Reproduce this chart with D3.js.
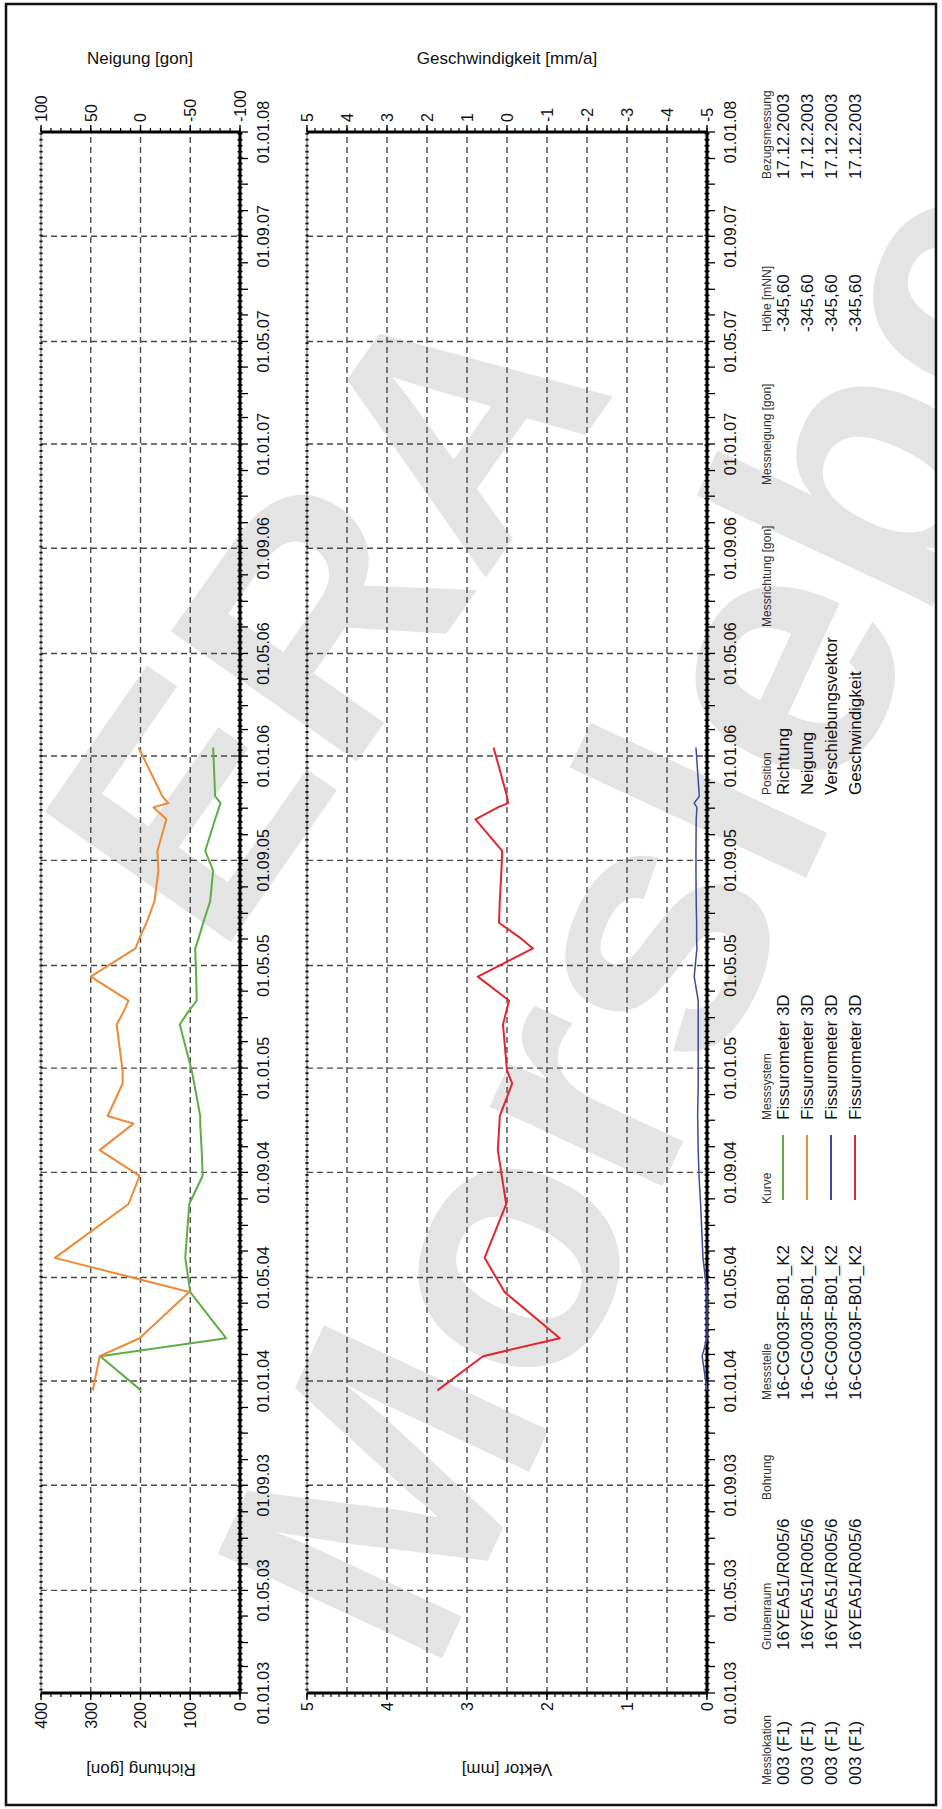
<!DOCTYPE html>
<html><head><meta charset="utf-8">
<script src="https://cdn.jsdelivr.net/npm/d3@7"></script>
<style>
body{margin:0;background:#fff}
svg{display:block}
text{font-family:"Liberation Sans",Arial,sans-serif;fill:#111}
</style>
</head><body>
<svg id="c" width="942" height="1809"></svg>
<script>
// ---------- data ----------
const dates = ["2003-12-21","2004-01-30","2004-02-20","2004-04-14","2004-05-24","2004-07-26","2004-08-28",
  "2004-09-27","2004-10-28","2004-11-06","2004-12-14","2004-12-29","2005-02-21","2005-03-08","2005-03-21",
  "2005-04-18","2005-05-21","2005-06-02","2005-06-20","2005-07-15","2005-08-20","2005-09-12","2005-10-19",
  "2005-11-02","2005-11-07","2005-11-15","2006-01-11"];
const richtung = [199,281,28,100,110,102,75,77,80,80,92,97,121,104,87,88,90,83,74,60,54,70,50,42,39,50,54];
const neigung  = [48,41,1,-49,86,12,1,41,7,33,18,18,24,17,12,50,5,1,-6,-14,-18,-17,-26,-13,-28,-22,2];
const vektor   = [0,0.06,0,0,0.05,0.08,0.10,0.11,0.115,0.117,0.11,0.11,0.11,0.11,0.11,0.16,0.126,0.13,0.13,0.135,0.138,0.138,0.135,0.126,0.16,0.096,0.138];
const geschwindigkeit = [1.74,0.6,-1.32,0.06,0.56,0.02,0.13,0.23,0.19,0.18,-0.13,0,0.1,0.02,-0.05,0.73,-0.65,-0.34,0.2,0.18,0.14,0.12,0.79,0.23,-0.03,0,0.335];

const timeTickLabels = ["01.01.03","01.05.03","01.09.03","01.01.04","01.05.04","01.09.04","01.01.05","01.05.05",
  "01.09.05","01.01.06","01.05.06","01.09.06","01.01.07","01.05.07","01.09.07","01.01.08"];
const richtungTicks = [0,100,200,300,400];
const neigungTicks = [-100,-50,0,50,100];
const vektorTicks = [0,1,2,3,4,5];
const geschwTicks = [-5,-4,-3,-2,-1,0,1,2,3,4,5];

const seriesNames = ["Richtung","Neigung","Verschiebungsvektor","Geschwindigkeit"];
const seriesColors = ["#5cae45","#ee8a35","#3d4b9c","#e3262e"];
const messlokation = ["003 (F1)","003 (F1)","003 (F1)","003 (F1)"];
const grubenraum = ["16YEA51/R005/6","16YEA51/R005/6","16YEA51/R005/6","16YEA51/R005/6"];
const messstelle = ["16-CG003F-B01_K2","16-CG003F-B01_K2","16-CG003F-B01_K2","16-CG003F-B01_K2"];
const messsystem = ["Fissurometer 3D","Fissurometer 3D","Fissurometer 3D","Fissurometer 3D"];
const hoehe = ["-345,60","-345,60","-345,60","-345,60"];
const bezug = ["17.12.2003","17.12.2003","17.12.2003","17.12.2003"];

// ---------- setup ----------
const PW = 942, PH = 1809;
const svg = d3.select("#c");
const parseD = d3.timeParse("%Y-%m-%d");
const parseT = d3.timeParse("%d.%m.%y");
const D = dates.map(parseD);

// clip for watermark (inside frame)
svg.append("defs").append("clipPath").attr("id","frameclip")
  .append("rect").attr("x",7).attr("y",5).attr("width",PW-14).attr("height",PH-10);

// watermark (page coordinates)
const wm = svg.append("g").attr("clip-path","url(#frameclip)").style("font-weight","bold");
wm.append("text").attr("transform","translate(432,1680) rotate(-65)")
  .style("font-size","360px").style("fill","#e4e4e4").text("Morsleben");
wm.append("text").attr("transform","translate(218,960) rotate(-55)")
  .style("font-size","330px").style("fill","#e4e4e4").text("ERA");

// frame
svg.append("rect").attr("x",6).attr("y",4).attr("width",PW-12).attr("height",PH-8)
  .attr("fill","none").attr("stroke","#111").attr("stroke-width",2.5);

// landscape group: X along time (page bottom->top), Y = page x
const L = svg.append("g").attr("transform",`translate(0,${PH}) rotate(-90)`);

const x = d3.scaleTime().domain([parseT("01.01.03"), parseT("01.01.08")]).range([116,1677]);
const tickDates = timeTickLabels.map(parseT);

function panel(top, bottom, ls, lTicks, lMinor, rs, rTicks, rMinor, hGrid){
  const g = L.append("g");
  const [x0,x1] = x.range();
  g.selectAll(".vg").data(tickDates.slice(1,-1)).join("line")
    .attr("x1",d=>x(d)).attr("x2",d=>x(d)).attr("y1",top).attr("y2",bottom)
    .attr("stroke","#4a4a4a").attr("stroke-width",1.4).attr("stroke-dasharray","6,4");
  g.selectAll(".hg").data(hGrid).join("line")
    .attr("x1",x0).attr("x2",x1).attr("y1",d=>ls(d)).attr("y2",d=>ls(d))
    .attr("stroke","#4a4a4a").attr("stroke-width",1.4).attr("stroke-dasharray","6,4");
  const weeks = d3.timeWeek.range(x.domain()[0], x.domain()[1]);
  g.append("line").attr("x1",x0).attr("x2",x1).attr("y1",top).attr("y2",top)
    .attr("stroke","#333").attr("stroke-width",0.8);
  g.selectAll(".tw").data(weeks).join("line")
    .attr("x1",d=>x(d)).attr("x2",d=>x(d)).attr("y1",top-1.6).attr("y2",top+1.6)
    .attr("stroke","#111").attr("stroke-width",1.8);
  g.append("line").attr("x1",x0).attr("x2",x1).attr("y1",bottom).attr("y2",bottom)
    .attr("stroke","#000").attr("stroke-width",3);
  g.selectAll(".bw").data(weeks).join("line")
    .attr("x1",d=>x(d)).attr("x2",d=>x(d)).attr("y1",bottom-2.5).attr("y2",bottom+2.5)
    .attr("stroke","#000").attr("stroke-width",1.6);
  const months = d3.timeMonth.range(x.domain()[0], d3.timeDay.offset(x.domain()[1],1));
  g.selectAll(".bm").data(months).join("line")
    .attr("x1",d=>x(d)).attr("x2",d=>x(d)).attr("y1",bottom).attr("y2",bottom+8)
    .attr("stroke","#000").attr("stroke-width",1.3);
  g.selectAll(".tl").data(tickDates).join("text")
    .attr("x",d=>x(d)).attr("y",bottom+29).attr("text-anchor","middle")
    .style("font-size","16px").text(d=>d3.timeFormat("%d.%m.%y")(d));
  g.append("line").attr("x1",x0).attr("x2",x0).attr("y1",top).attr("y2",bottom)
    .attr("stroke","#000").attr("stroke-width",3.2);
  const [ld0,ld1] = ls.domain();
  const lm = d3.range(ld0, ld1+lMinor/2, lMinor);
  g.selectAll(".lm").data(lm).join("line")
    .attr("x1",x0-4).attr("x2",x0).attr("y1",d=>ls(d)).attr("y2",d=>ls(d))
    .attr("stroke","#000").attr("stroke-width",1.2);
  g.selectAll(".lt").data(lTicks).join("line")
    .attr("x1",x0-7).attr("x2",x0).attr("y1",d=>ls(d)).attr("y2",d=>ls(d))
    .attr("stroke","#000").attr("stroke-width",1.4);
  g.selectAll(".ll").data(lTicks).join("text")
    .attr("x",x0-9).attr("y",d=>ls(d)).attr("dy","0.36em").attr("text-anchor","end")
    .style("font-size","16px").text(d=>d);
  g.append("line").attr("x1",x1).attr("x2",x1).attr("y1",top).attr("y2",bottom)
    .attr("stroke","#000").attr("stroke-width",3.2);
  const [rd0,rd1] = rs.domain();
  const rm = d3.range(rd0, rd1+rMinor/2, rMinor);
  g.selectAll(".rm").data(rm).join("line")
    .attr("x1",x1).attr("x2",x1+4).attr("y1",d=>rs(d)).attr("y2",d=>rs(d))
    .attr("stroke","#000").attr("stroke-width",1.2);
  g.selectAll(".rt").data(rTicks).join("line")
    .attr("x1",x1).attr("x2",x1+7).attr("y1",d=>rs(d)).attr("y2",d=>rs(d))
    .attr("stroke","#000").attr("stroke-width",1.4);
  g.selectAll(".rl").data(rTicks).join("text")
    .attr("x",x1+10).attr("y",d=>rs(d)).attr("dy","0.36em").attr("text-anchor","start")
    .style("font-size","16px").text(d=>d);
  return g;
}

const yR = d3.scaleLinear().domain([0,400]).range([240,41]);
const yN = d3.scaleLinear().domain([-100,100]).range([240,41]);
const g1 = panel(41,240,yR,richtungTicks,20,yN,neigungTicks,10,[100,200,300]);
const yV = d3.scaleLinear().domain([0,5]).range([707,307]);
const yG = d3.scaleLinear().domain([-5,5]).range([707,307]);
const g2 = panel(307,707,yV,vektorTicks,0.1,yG,geschwTicks,0.2,[0.5,1,1.5,2,2.5,3,3.5,4,4.5]);

function drawLine(g, vals, sc, color, w){
  const line = d3.line().x((d,i)=>x(D[i])).y(d=>sc(d));
  g.append("path").datum(vals).attr("d",line).attr("fill","none")
    .attr("stroke",color).attr("stroke-width",w).attr("stroke-linejoin","round");
}
drawLine(g1, richtung, yR, seriesColors[0], 2);
drawLine(g1, neigung, yN, seriesColors[1], 2);
drawLine(g2, vektor, yV, seriesColors[2], 1.5);
drawLine(g2, geschwindigkeit, yG, seriesColors[3], 2);

// axis titles
L.append("text").attr("transform","translate(1751,140) rotate(90)").attr("dy","0.35em")
  .attr("text-anchor","middle").style("font-size","17px").text("Neigung [gon]");
L.append("text").attr("transform","translate(1751,507) rotate(90)").attr("dy","0.35em")
  .attr("text-anchor","middle").style("font-size","17px").text("Geschwindigkeit [mm/a]");
L.append("text").attr("transform","translate(39,141) rotate(-90)").attr("dy","0.35em")
  .attr("text-anchor","middle").style("font-size","17px").text("Richtung [gon]");
L.append("text").attr("transform","translate(39,507) rotate(-90)").attr("dy","0.35em")
  .attr("text-anchor","middle").style("font-size","17px").text("Vektor [mm]");

// info table (landscape bottom)
const hdrY = 767, rowY = [783,807,831,855];
const cols = [
  {h:"Messlokation", x:24, rows:messlokation},
  {h:"Grubenraum", x:159, rows:grubenraum},
  {h:"Bohrung", x:309, rows:[]},
  {h:"Messstelle", x:409, rows:messstelle},
  {h:"Kurve", x:605, rows:[]},
  {h:"Messsystem", x:689, rows:messsystem},
  {h:"Position", x:1014, rows:seriesNames},
  {h:"Messrichtung [gon]", x:1182, rows:[]},
  {h:"Messneigung [gon]", x:1324, rows:[]},
  {h:"Höhe [mNN]", x:1477, rows:hoehe},
  {h:"Bezugsmessung", x:1630, rows:bezug}
];
const tg = L.append("g");
cols.forEach(c=>{
  tg.append("text").attr("x",c.x).attr("y",hdrY).attr("dy","0.35em")
    .style("font-size","12px").style("fill","#333").text(c.h);
  c.rows.forEach((r,i)=>{
    tg.append("text").attr("x",c.x).attr("y",rowY[i]).attr("dy","0.36em")
      .style("font-size","17px").text(r);
  });
});
tg.selectAll(".kl").data(seriesColors).join("line")
  .attr("x1",609).attr("x2",674).attr("y1",(d,i)=>rowY[i]).attr("y2",(d,i)=>rowY[i])
  .attr("stroke",d=>d).attr("stroke-width",2);
</script>
</body></html>
